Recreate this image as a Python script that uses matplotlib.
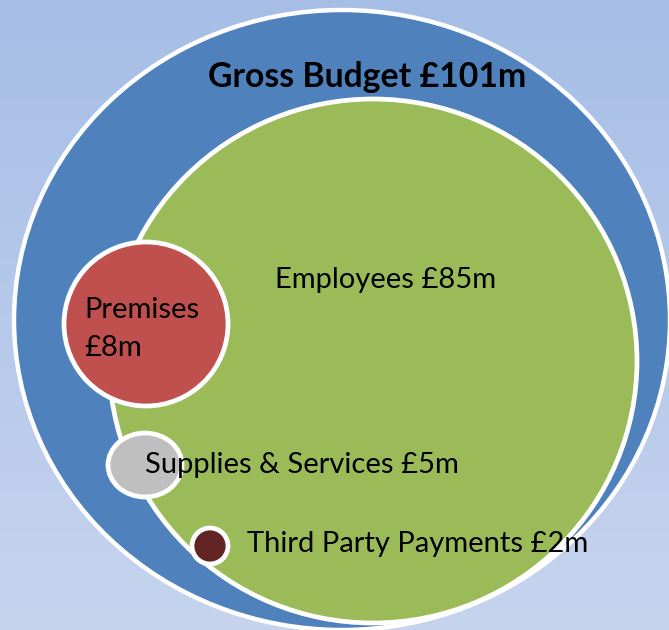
import numpy as np
import matplotlib
matplotlib.use("Agg")
import matplotlib.pyplot as plt
from matplotlib.patches import Ellipse

# budget items (GBP millions)
total_label = "Gross Budget"
total_value = 101
items = ["Employees", "Premises", "Supplies & Services", "Third Party Payments"]
values = [85, 8, 5, 2]
colors = ["#9BBB59", "#C0504D", "#BFBFBF", "#632523"]

W, H = 669, 630
fig = plt.figure(figsize=(W / 100, H / 100), dpi=100)
ax = fig.add_axes([0, 0, 1, 1])
ax.set_xlim(0, W)
ax.set_ylim(H, 0)
ax.axis("off")

# light blue vertical gradient background
top = np.array([166, 190, 230]) / 255
bot = np.array([198, 212, 238]) / 255
t = np.linspace(0, 1, 256)[:, None, None]
grad = top * (1 - t) + bot * t
ax.imshow(np.repeat(grad, 2, axis=1), extent=[0, W, H, 0], aspect="auto", zorder=0)

# circle layout in pixel space: (cx, cy, width, height)
outer = (342, 320, 656, 620)
shapes = [(373, 361, 528, 524),   # employees
          (146, 324, 164, 164),   # premises
          (145, 465, 74, 64),     # supplies
          (210, 546, 36, 36)]     # third party

ax.add_patch(Ellipse(outer[:2], outer[2], outer[3], fc="#4F81BD", ec="white", lw=3.2, zorder=1))
for (cx, cy, w, h), c in zip(shapes, colors):
    ax.add_patch(Ellipse((cx, cy), w, h, fc=c, ec="white", lw=3.4, zorder=2))

fam = ["Lato", "DejaVu Sans"]
fs = 21
ax.text(367, 87, f"{total_label} £{total_value}m", ha="center", va="baseline",
        fontsize=24.3, fontweight="bold", family=fam, zorder=3)
ax.text(275, 288, f"{items[0]} £{values[0]}m", ha="left", va="baseline",
        fontsize=fs, family=fam, zorder=3)
ax.text(84, 318, items[1], ha="left", va="baseline", fontsize=fs, family=fam, zorder=3)
ax.text(84, 356, f"£{values[1]}m", ha="left", va="baseline", fontsize=fs, family=fam, zorder=3)
ax.text(145, 473, f"{items[2]} £{values[2]}m", ha="left", va="baseline",
        fontsize=fs, family=fam, zorder=3)
ax.text(247, 552, f"{items[3]} £{values[3]}m", ha="left", va="baseline",
        fontsize=fs, family=fam, zorder=3)

fig.savefig("out.png", dpi=100)
